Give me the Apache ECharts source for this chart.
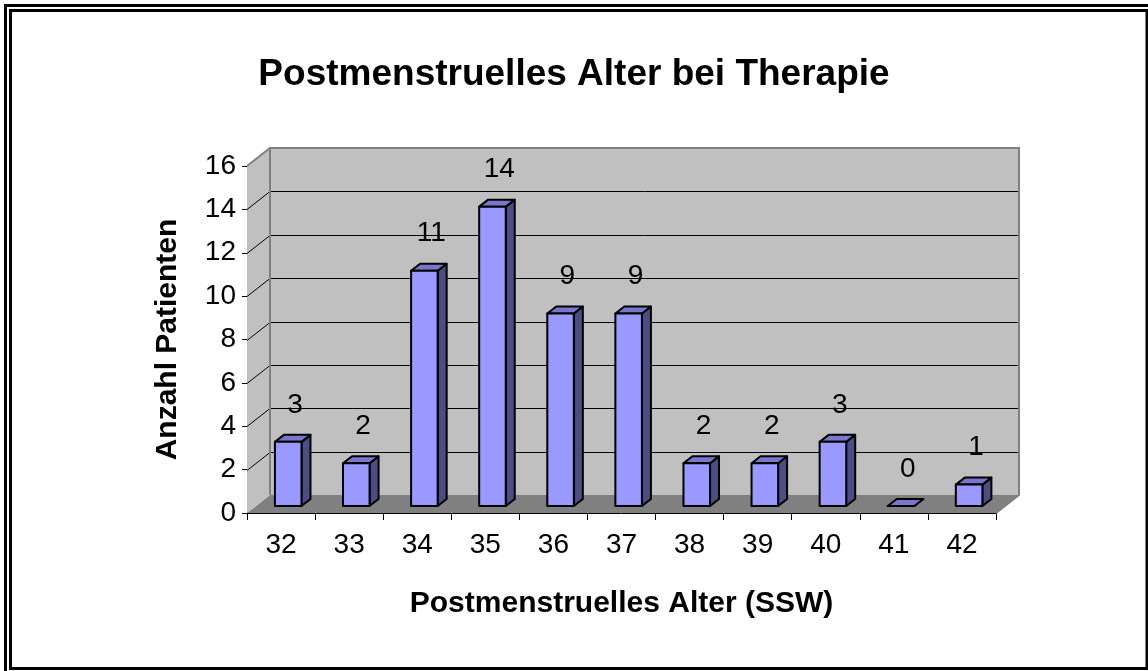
<!DOCTYPE html>
<html>
<head>
<meta charset="utf-8">
<script src="https://cdn.jsdelivr.net/npm/echarts@6/dist/echarts.min.js"></script>
<style>
  html, body { margin: 0; padding: 0; background: #fff; }
  #chart { width: 1148px; height: 671px; }
</style>
</head>
<body>
<div id="chart"></div>
<script>
// data
const categories = ['32', '33', '34', '35', '36', '37', '38', '39', '40', '41', '42'];
const patients = [3, 2, 11, 14, 9, 9, 2, 2, 3, 0, 1];
const yTicks = [0, 2, 4, 6, 8, 10, 12, 14, 16];

const FONT = '"Liberation Sans", Arial, sans-serif';
// oblique depth of the walls
const DX = 23, DY = -18;
// bar placement inside the depth
const FRONT_DY = -7, BAR_DX = 9, BAR_DY = -7;

function renderWalls(params, api) {
  const cs = params.coordSys;
  const x0 = cs.x, x1 = cs.x + cs.width;
  const yb = api.coord([0, 0])[1];
  const yt = api.coord([0, yTicks[yTicks.length - 1]])[1];
  const children = [];
  // floor
  children.push({
    type: 'polygon',
    shape: { points: [[x0, yb], [x1, yb], [x1 + DX, yb + DY], [x0 + DX, yb + DY]] },
    style: { fill: '#808080' }
  });
  // left wall
  children.push({
    type: 'polygon',
    shape: { points: [[x0, yt], [x0 + DX, yt + DY], [x0 + DX, yb + DY], [x0, yb]] },
    style: { fill: '#c0c0c0' }
  });
  // back wall
  children.push({
    type: 'rect',
    shape: { x: x0 + DX, y: yt + DY, width: cs.width, height: yb - yt },
    style: { fill: '#c0c0c0' }
  });
  // grid lines
  for (let i = 1; i < yTicks.length - 1; i++) {
    const y = Math.round(api.coord([0, yTicks[i]])[1]) + 0.5;
    children.push({
      type: 'polyline',
      shape: { points: [[x0, y], [x0 + DX, y + DY], [x1 + DX, y + DY]] },
      style: { fill: null, stroke: '#000', lineWidth: 1 }
    });
  }
  // gray edges
  children.push({
    type: 'polyline',
    shape: { points: [[x0, yt], [x0 + DX, yt + DY], [x1 + DX, yt + DY], [x1 + DX, yb + DY], [x1, yb]] },
    style: { fill: null, stroke: '#808080', lineWidth: 2 }
  });
  children.push({
    type: 'line',
    shape: { x1: x0 + DX, y1: yt + DY, x2: x0 + DX, y2: yb + DY },
    style: { stroke: '#808080', lineWidth: 2 }
  });
  return { type: 'group', children: children };
}

function renderBar(params, api) {
  const idx = api.value(0), v = api.value(1);
  const base = api.coord([idx, 0]);
  const top = api.coord([idx, v]);
  const band = api.size([1, 0])[0];
  const xl = base[0] - 0.09 * band, xr = base[0] + 0.30 * band;
  const yb = base[1] + FRONT_DY;
  const yt = yb - (base[1] - top[1]) * 0.986;
  const stroke = { stroke: '#000', lineWidth: 2, lineJoin: 'round' };
  return {
    type: 'group',
    children: [
      {
        type: 'polygon',
        shape: { points: [[xr, yb], [xr + BAR_DX, yb + BAR_DY], [xr + BAR_DX, yt + BAR_DY], [xr, yt]] },
        style: Object.assign({ fill: '#4d4d85' }, stroke)
      },
      {
        type: 'polygon',
        shape: { points: [[xl, yt], [xr, yt], [xr + BAR_DX, yt + BAR_DY], [xl + BAR_DX, yt + BAR_DY]] },
        style: Object.assign({ fill: '#7777cc' }, stroke)
      },
      {
        type: 'polygon',
        shape: { points: [[xl, yb], [xr, yb], [xr, yt], [xl, yt]] },
        style: Object.assign({ fill: '#9999ff' }, stroke)
      },
      {
        type: 'text',
        style: {
          x: base[0] + 14, y: yt - 37, text: String(v),
          fill: '#000', fontSize: 28, fontFamily: FONT,
          align: 'center', verticalAlign: 'middle'
        }
      }
    ]
  };
}

const chart = echarts.init(document.getElementById('chart'));
chart.setOption({
  animation: false,
  backgroundColor: '#fff',
  title: {
    text: 'Postmenstruelles Alter bei Therapie',
    left: 'center',
    top: 51,
    textStyle: { fontSize: 37, fontWeight: 'bold', fontFamily: FONT, color: '#000' }
  },
  grid: { left: 247, right: 152, top: 166, bottom: 158 },
  xAxis: {
    type: 'category',
    data: categories,
    axisLine: { show: true, lineStyle: { color: '#000', width: 1 } },
    axisTick: { show: true, length: 7, lineStyle: { color: '#000' } },
    axisLabel: { fontSize: 28, fontFamily: FONT, color: '#000', margin: 18 },
    splitLine: { show: false },
    name: 'Postmenstruelles Alter (SSW)',
    nameLocation: 'middle',
    nameGap: 76,
    nameTextStyle: { fontSize: 30, fontWeight: 'bold', fontFamily: FONT, color: '#000' }
  },
  yAxis: {
    type: 'value',
    min: 0,
    max: 16,
    interval: 2,
    axisLine: { show: true, lineStyle: { color: '#000', width: 1 } },
    axisTick: { show: true, length: 5, lineStyle: { color: '#000' } },
    axisLabel: { fontSize: 28, fontFamily: FONT, color: '#000', margin: 11 },
    splitLine: { show: false },
    name: 'Anzahl Patienten',
    nameLocation: 'middle',
    nameRotate: 90,
    nameGap: 64,
    nameTextStyle: { fontSize: 30, fontWeight: 'bold', fontFamily: FONT, color: '#000' }
  },
  graphic: [
    { type: 'rect', shape: { x: 5.5, y: 5.5, width: 1200, height: 700 }, style: { fill: 'none', stroke: '#000', lineWidth: 3 }, z: 100 },
    { type: 'rect', shape: { x: 10.5, y: 10.5, width: 1136.5, height: 658 }, style: { fill: 'none', stroke: '#000', lineWidth: 3 }, z: 100 }
  ],
  series: [
    {
      type: 'custom',
      name: 'walls',
      renderItem: renderWalls,
      data: [[0, 0]],
      silent: true,
      z: 1
    },
    {
      type: 'custom',
      name: 'Anzahl Patienten',
      renderItem: renderBar,
      data: patients.map((v, i) => [i, v]),
      encode: { x: 0, y: 1 },
      z: 3
    }
  ]
});
</script>
</body>
</html>
